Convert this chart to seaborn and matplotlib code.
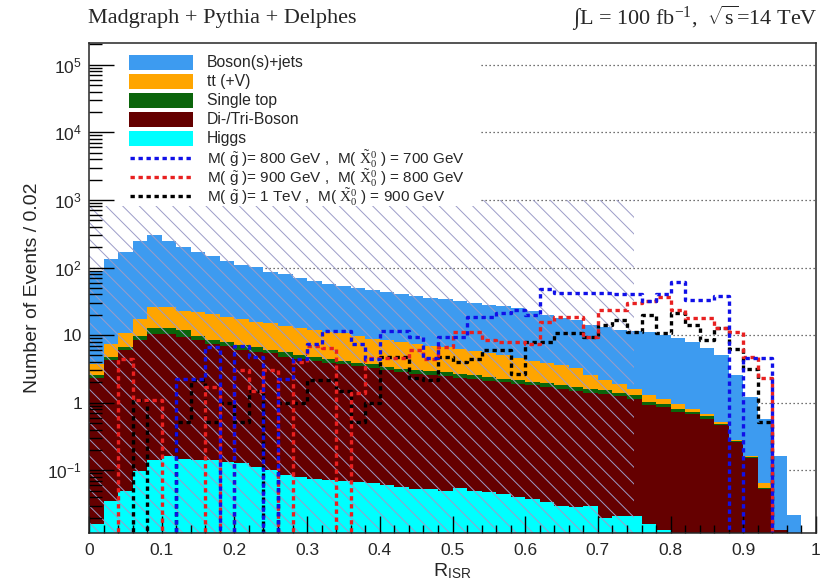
import numpy as np
import pandas as pd
import matplotlib
matplotlib.use("Agg")
import matplotlib.pyplot as plt
import seaborn as sns
from matplotlib.patches import Rectangle
from matplotlib.lines import Line2D

# ---------------- data ----------------
bin_width = 0.02
bin_edges = [round(i * bin_width, 2) for i in range(51)]

higgs = [0.016, 0.035, 0.050, 0.098, 0.14, 0.165, 0.146, 0.14, 0.14, 0.133,
         0.126, 0.110, 0.10, 0.084, 0.080, 0.075, 0.073, 0.069, 0.067, 0.065,
         0.060, 0.057, 0.053, 0.053, 0.049, 0.055, 0.050, 0.047, 0.045, 0.040,
         0.037, 0.034, 0.030, 0.029, 0.030, 0.020, 0.021, 0.021, 0.016, 0.013,
         0, 0, 0, 0, 0, 0, 0, 0, 0, 0]
diboson = [2.34, 4.24, 5.95, 8.50, 10.16, 10.14, 9.25, 8.26, 7.36, 6.77,
           5.97, 5.59, 5.25, 4.72, 4.42, 4.13, 3.83, 3.63, 3.43, 3.24,
           2.94, 2.79, 2.65, 2.55, 2.40, 2.30, 2.20, 2.05, 1.96, 1.86,
           1.76, 1.67, 1.57, 1.47, 1.37, 1.33, 1.23, 1.13, 0.90, 0.84,
           0.73, 0.68, 0.58, 0.46, 0.26, 0.154, 0.053, 0.013, 0, 0]
singletop = [0.19, 0.53, 0.6, 1.1, 2.3, 2.3, 2.5, 1.3, 1.1, 1.0,
             1.0, 0.9, 0.65, 0.9, 0.5, 0.6, 0.6, 0.5, 0.4, 0.4,
             0.4, 0.35, 0.35, 0.35, 0.35, 0.3, 0.3, 0.3, 0.25, 0.25,
             0.25, 0.22, 0.2, 0.2, 0.2, 0.17, 0.15, 0.15, 0.1, 0.1,
             0.07, 0.06, 0.05, 0.03, 0.01, 0.001, 0.001, 0, 0, 0]
ttbar = [1.15, 2.5, 4.2, 7.4, 13.2, 13.7, 11.0, 12.4, 11.8, 10.8,
         10.0, 9.1, 8.9, 7.9, 7.6, 7.1, 6.7, 6.4, 5.8, 5.2,
         5.0, 4.7, 4.35, 4.05, 3.8, 3.55, 3.25, 3.0, 2.75, 2.45,
         2.15, 1.98, 1.8, 1.6, 1.0, 0.68, 0.5, 0.32, 0.27, 0.2,
         0.17, 0.08, 0.05, 0.03, 0.01, 0.005, 0.01, 0, 0, 0]
bosonjets = [86.3, 125.7, 160.2, 232.9, 277.2, 223.7, 177.1, 149.9, 125.6, 107.3,
             91.9, 85.3, 72.1, 66.4, 58.4, 52.1, 46.8, 42.4, 39.3, 37.1,
             35.6, 33.1, 31.1, 29.0, 27.4, 25.8, 24.2, 22.6, 21.5, 20.4,
             18.8, 16.1, 14.4, 13.2, 11.4, 10.8, 10.0, 9.7, 9.91, 8.85,
             8.03, 7.18, 5.72, 4.48, 2.32, 1.04, 0.516, 0.147, 0.022, 0]

sig_800_700 = [0, 0, 0, 0, 0, 0, 2.28, 2.28, 6.7, 0,
               6.9, 4.8, 0, 2.28, 4.5, 7.5, 11.6, 11.6, 7.5, 4.5,
               11.6, 11.6, 9.4, 4.6, 9.4, 9.4, 18.7, 18.7, 21, 23.5,
               19.8, 47.6, 41.6, 41.6, 42.5, 42.5, 40.5, 40, 32.3, 40,
               61.6, 33, 33, 38.4, 0, 4.6, 4.6, 0, 0, 0]
sig_900_800 = [0, 0, 4.4, 1.09, 1.09, 0, 0, 0, 1.7, 0,
               3.0, 1.5, 3.0, 0, 4.0, 7.0, 6.5, 0, 1.4, 4.6,
               4.6, 4.6, 6.0, 4.5, 6.7, 11.2, 11.2, 8.4, 7.8, 8.0,
               7.5, 15.5, 18.7, 18.7, 9.4, 23.5, 23.5, 29.5, 32, 37,
               23.5, 17.7, 17.7, 12.6, 11.2, 4.8, 2.3, 0, 0, 0]
sig_1000_900 = [0, 0, 0, 1.09, 0, 0, 0.52, 2.15, 0.52, 0.98,
                0.52, 1.5, 0, 1.0, 1.0, 2.15, 2.15, 1.5, 0.52, 1.0,
                4.8, 4.8, 2.3, 2.15, 4.8, 4.0, 4.5, 6.0, 6.0, 2.7,
                8.0, 8.0, 10.6, 10.6, 9.4, 14, 16.7, 11.2, 19.8, 10.6,
                21, 14, 8.4, 12.6, 6.3, 3.2, 0.52, 0, 0, 0]

bg_labels = ["Boson(s)+jets", "tt (+V)", "Single top", "Di-/Tri-Boson", "Higgs"]
bg_colors = ["#3d9bf0", "#ffa500", "#0b650b", "#650000", "#00ffff"]
sig_labels = [r"M( $\tilde{\mathsf{g}}$ )= 800 GeV ,  M( $\tilde{\mathrm{X}}^{0}_{0}$ ) = 700 GeV",
              r"M( $\tilde{\mathsf{g}}$ )= 900 GeV ,  M( $\tilde{\mathrm{X}}^{0}_{0}$ ) = 800 GeV",
              r"M( $\tilde{\mathsf{g}}$ )= 1 TeV ,  M( $\tilde{\mathrm{X}}^{0}_{0}$ ) = 900 GeV"]
sig_colors = ["#1010e8", "#e82020", "#000000"]

excluded_x = (0.0, 0.75)
excluded_ymax = 1e3
y_range = (0.0118, 2.1e5)
y_major = [1e-1, 1, 10, 1e2, 1e3, 1e4, 1e5]
y_major_labels = [r"$\mathsf{10^{-1}}$", "1", "10", r"$\mathsf{10^{2}}$",
                  r"$\mathsf{10^{3}}$", r"$\mathsf{10^{4}}$", r"$\mathsf{10^{5}}$"]
x_major = [round(0.1 * i, 1) for i in range(11)]
x_major_labels = ["0", "0.1", "0.2", "0.3", "0.4", "0.5", "0.6", "0.7", "0.8", "0.9", "1"]

# ---------------- figure ----------------
sns.set_style("ticks")
plt.rcParams["font.family"] = ["Liberation Sans", "DejaVu Sans"]
plt.rcParams["mathtext.fontset"] = "custom"
plt.rcParams["mathtext.rm"] = "Liberation Serif"
plt.rcParams["mathtext.it"] = "Liberation Serif:italic"
plt.rcParams["mathtext.sf"] = "Liberation Sans"
plt.rcParams["hatch.linewidth"] = 0.7

fig = plt.figure(figsize=(8.31, 5.87), dpi=100)
ax = fig.add_axes([89 / 831, 54 / 587, 727 / 831, 490 / 587])
ax.set_axisbelow(False)

centers = [round(e + bin_width / 2, 3) for e in bin_edges[:-1]]
bg_values = [bosonjets, ttbar, singletop, diboson, higgs]
bg = pd.DataFrame({
    "x": np.tile(centers, len(bg_labels)),
    "w": np.concatenate(bg_values),
    "process": np.repeat(bg_labels, len(centers)),
})
sns.histplot(data=bg, x="x", weights="w", hue="process", hue_order=bg_labels,
             palette=dict(zip(bg_labels, bg_colors)), bins=bin_edges,
             multiple="stack", element="step", linewidth=0, alpha=1,
             legend=False, ax=ax, zorder=1.5)

sig_values = [sig_800_700, sig_900_800, sig_1000_900]
sig = pd.DataFrame({
    "x": np.tile(centers, len(sig_labels)),
    "w": np.concatenate(sig_values),
    "signal": np.repeat(sig_labels, len(centers)),
})
sns.histplot(data=sig, x="x", weights="w", hue="signal", hue_order=sig_labels,
             palette=dict(zip(sig_labels, sig_colors)), bins=bin_edges,
             element="step", fill=False, linewidth=2.4,
             linestyle=(0, (1.3, 1.1)), legend=False, ax=ax, zorder=4)

ax.set_yscale("log")
ax.set_xlim(0, 1)
ax.set_ylim(*y_range)

# hatched region
ax.fill_between(list(excluded_x), y_range[0], excluded_ymax, facecolor="none",
                edgecolor="#9c9cc8", linewidth=0, hatch="\\\\", zorder=2)

# grid at major decades
for dec in y_major:
    ax.axhline(dec, color="#444444", lw=0.9, ls=(0, (1, 2.2)), zorder=0.5)

# ticks
ax.tick_params(axis="both", which="both", direction="in", labelsize=12.5,
               color="black", width=1)
ax.tick_params(axis="y", which="major", length=18, pad=5)
ax.tick_params(axis="y", which="minor", length=9)
ax.tick_params(axis="x", which="major", length=12, pad=7)
ax.tick_params(axis="x", which="minor", length=6)
ax.set_xticks(x_major)
ax.set_xticklabels(x_major_labels)
ax.set_xticks(bin_edges, minor=True)
ax.set_yticks(y_major)
ax.set_yticklabels(y_major_labels)
for s in ax.spines.values():
    s.set_linewidth(1.1)
    s.set_zorder(6)

ax.set_xlabel(r"R$_{\mathsf{ISR}}$", fontsize=14)
ax.xaxis.set_label_coords(0.5, -0.058)
ax.set_ylabel("Number of Events / 0.02", fontsize=14)
ax.yaxis.set_label_coords(-0.066, 0.5)

# legend (manual, in axes coordinates); background sits under the axis ticks
ax.add_patch(Rectangle((0.002, 0.667), 0.536, 0.331, transform=ax.transAxes,
                       facecolor="white", edgecolor="none", zorder=2.4))
row0 = 0.960
dy = 0.0388
for i, (lab, col) in enumerate(zip(bg_labels, bg_colors)):
    y = row0 - i * dy
    ax.add_patch(Rectangle((0.055, y - 0.0153), 0.088, 0.0306, transform=ax.transAxes,
                           facecolor=col, edgecolor="none", zorder=8))
    ax.text(0.162, y, lab, transform=ax.transAxes, fontsize=11.3, va="center",
            ha="left", zorder=8)
for j, (lab, col) in enumerate(zip(sig_labels, sig_colors)):
    y = row0 - (5 + j) * dy
    ax.add_line(Line2D([0.057, 0.141], [y, y], transform=ax.transAxes, color=col,
                       lw=2.4, ls=(0, (1.3, 1.1)), zorder=8))
    ax.text(0.162, y - 0.003, lab, transform=ax.transAxes, fontsize=11, va="center",
            ha="left", zorder=8)

# header
fig.text(88 / 831, 1 - 18 / 587, "Madgraph + Pythia + Delphes", family="Liberation Serif",
         fontsize=16, va="center", ha="left")
fig.text(818 / 831, 1 - 18 / 587, r"$\int$L = 100 fb$^{-1}$,  $\sqrt{\rm s}$=14 TeV",
         family="Liberation Serif", fontsize=16, va="center", ha="right")

fig.savefig("out.png", dpi=100)
